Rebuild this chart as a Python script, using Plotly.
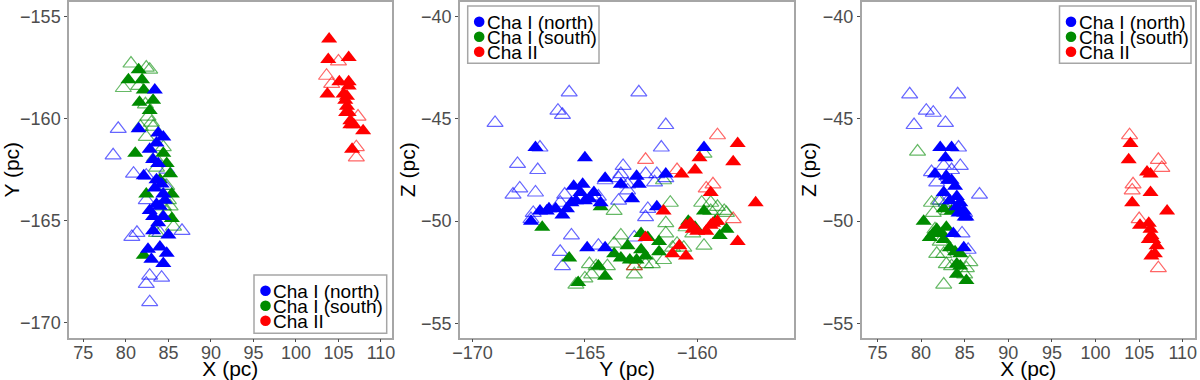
import plotly.graph_objects as go

# ---------------- Panel 1: X vs Y ----------------
p1_north_filled_x = [83.4, 81.5, 83.8, 84.4, 82.8, 83.6, 83.2, 83.8, 82.1, 83.4, 84.4, 83.6, 82.8, 84.0, 84.6,
                     83.2, 84.4, 83.8, 83.2, 85.0, 82.6, 84.0, 84.8, 83.0, 84.4, 84.2, 83.6]
p1_north_filled_y = [-158.6, -160.5, -160.7, -160.9, -161.5, -161.2, -162.0, -162.2, -162.8, -163.4, -163.7, -164.2,
                     -164.5, -164.3, -164.0, -164.8, -164.8, -165.1, -165.5, -165.7, -166.4, -166.3, -166.6, -166.9,
                     -167.1, -163.2, -163.0]
p1_north_open_x = [79.1, 78.5, 80.9, 82.4, 81.3, 80.7, 86.6, 84.8, 84.6, 82.4, 82.8, 82.4, 84.2, 82.8, 84.0]
p1_north_open_y = [-160.5, -161.8, -162.7, -162.8, -165.6, -165.8, -165.5, -162.5, -163.3, -164.0, -167.7, -168.1,
                   -167.8, -169.0, -165.6]
p1_south_filled_x = [81.5, 80.3, 81.9, 82.1, 81.6, 83.2, 82.8, 81.1, 84.4, 82.4, 85.4, 85.2, 84.8, 85.4, 82.1, 84.0]
p1_south_filled_y = [-157.6, -158.1, -158.1, -158.6, -159.2, -159.1, -159.6, -161.7, -161.7, -163.7, -163.7, -162.7,
                     -162.2, -164.9, -166.7, -163.0]
p1_south_open_x = [80.6, 82.8, 82.4, 79.7, 81.5, 82.3, 83.0, 83.2, 81.7, 82.4, 83.4, 83.6, 84.8, 85.0, 85.2, 84.8,
                   85.6, 83.6, 84.4, 82.6, 84.4]
p1_south_open_y = [-157.3, -157.6, -157.5, -158.5, -158.4, -159.3, -160.2, -160.4, -160.4, -160.9, -161.9, -162.4,
                   -163.3, -164.0, -164.3, -164.6, -165.3, -165.6, -164.3, -159.9, -161.4]
p1_cha2_filled_x = [103.9, 103.8, 106.2, 103.7, 105.1, 106.2, 105.6, 105.8, 106.0, 106.2, 106.4, 106.4, 107.9, 106.6,
                    106.2, 105.9, 106.8, 106.0]
p1_cha2_filled_y = [-156.1, -157.1, -157.0, -158.8, -158.2, -158.2, -158.8, -159.1, -159.4, -159.7, -160.1, -160.3,
                    -160.6, -161.5, -158.4, -159.7, -160.3, -158.9]
p1_cha2_open_x = [105.0, 103.6, 104.2, 107.3, 107.1, 107.1]
p1_cha2_open_y = [-157.2, -157.9, -158.3, -159.9, -161.4, -161.9]

# ---------------- Panel 2: Y vs Z ----------------
p2_north_filled_x = [-167.2, -165.0, -167.4, -167.0, -166.6, -166.7, -166.0, -165.8, -165.5, -165.1, -165.2, -165.6,
                     -165.4, -165.0, -164.6, -164.3, -164.1, -163.4, -162.9, -162.7, -162.6, -161.8, -161.4, -159.7,
                     -164.9, -164.1, -166.3, -164.8]
p2_north_filled_y = [-46.4, -46.9, -50.0, -49.5, -49.4, -49.5, -49.7, -49.4, -48.3, -48.2, -48.6, -49.1, -49.0, -49.0,
                     -48.6, -49.1, -47.9, -48.2, -48.9, -47.8, -48.2, -49.3, -47.7, -46.4, -51.3, -51.3, -49.4, -48.9]
p2_north_open_x = [-169.0, -165.7, -166.2, -166.0, -162.6, -161.4, -167.0, -161.6, -168.0, -167.1, -167.9, -168.2,
                   -167.2, -167.3, -167.4, -165.9, -166.1, -165.6, -166.1, -166.0, -163.3, -163.4, -164.1, -163.5,
                   -163.1, -164.7, -164.4, -163.5, -162.3, -161.8, -161.4, -162.3, -162.2, -162.8, -164.4, -161.9,
                   -163.1]
p2_north_open_y = [-45.2, -43.7, -44.6, -44.8, -43.7, -45.3, -46.4, -46.4, -47.2, -47.5, -48.4, -48.7, -48.6, -49.6,
                   -49.9, -48.7, -49.1, -50.7, -51.5, -52.2, -47.3, -47.7, -48.0, -47.9, -48.2, -48.8, -48.8, -49.0,
                   -47.7, -47.7, -47.9, -49.8, -49.4, -50.8, -51.2, -48.1, -48.5]
p2_south_filled_x = [-166.9, -165.7, -165.3, -164.4, -164.1, -164.3, -163.7, -163.4, -163.1, -163.0, -162.7, -162.5,
                     -162.5, -162.2, -162.3, -161.7, -161.7, -159.7, -159.0, -158.7, -159.2, -160.1, -160.4]
p2_south_filled_y = [-50.3, -51.8, -53.0, -52.2, -52.7, -49.3, -51.6, -51.8, -51.2, -51.9, -51.9, -50.6, -51.4, -50.8,
                     -51.7, -51.0, -51.5, -49.5, -50.7, -50.4, -50.0, -50.3, -50.0]
p2_south_open_x = [-163.4, -163.7, -164.8, -164.7, -165.0, -165.4, -164.0, -162.8, -162.8, -162.3, -162.0, -161.5,
                   -161.4, -161.4, -161.2, -161.5, -160.5, -160.2, -159.7, -160.6, -161.1, -159.8, -159.4, -159.1,
                   -158.8, -158.7, -159.4, -159.7, -160.9, -163.7, -164.5]
p2_south_open_y = [-50.7, -51.1, -52.1, -52.6, -52.8, -53.1, -52.2, -52.2, -52.6, -52.1, -52.1, -51.9, -50.1, -50.6,
                   -49.1, -48.0, -50.3, -50.6, -51.2, -51.3, -51.3, -49.1, -49.1, -49.3, -49.5, -49.6, -49.5, -46.7,
                   -51.1, -49.5, -52.2]
p2_cha2_filled_x = [-158.2, -158.4, -159.9, -160.1, -160.7, -159.4, -157.4, -161.5, -162.3, -160.5, -160.3, -160.2,
                    -160.0, -159.6, -159.4, -159.3, -159.1, -158.2, -161.1, -160.8, -160.5]
p2_cha2_filled_y = [-46.2, -47.1, -46.9, -47.5, -47.7, -48.6, -49.1, -49.5, -50.8, -50.2, -50.1, -50.4, -50.5, -50.5,
                    -50.2, -50.1, -50.0, -51.0, -51.6, -51.2, -51.7]
p2_cha2_open_x = [-159.1, -162.3, -160.9, -159.3, -159.6, -158.4, -162.8]
p2_cha2_open_y = [-45.8, -47.0, -47.5, -48.2, -48.4, -49.9, -52.2]

# ---------------- Panel 3: X vs Z ----------------
p3_north_filled_x = [82.2, 83.5, 82.8, 81.6, 82.9, 83.5, 83.9, 84.1, 84.5, 84.9, 85.0, 85.2, 82.6, 83.3, 84.3, 83.7,
                     84.9, 83.1, 84.1]
p3_north_filled_y = [-46.4, -46.4, -46.9, -47.7, -47.8, -48.0, -48.3, -48.8, -49.1, -49.5, -49.8, -49.8, -48.6, -49.0,
                     -49.6, -50.6, -51.3, -48.0, -49.3]
p3_north_open_x = [78.7, 84.2, 80.6, 81.4, 79.2, 82.8, 84.3, 84.5, 81.2, 81.8, 82.6, 83.5, 86.7, 82.2, 82.9, 84.7,
                   85.4, 85.0]
p3_north_open_y = [-43.8, -43.8, -44.6, -44.7, -45.3, -45.2, -46.4, -47.3, -47.6, -48.1, -47.3, -47.5, -48.7, -49.0,
                   -49.1, -50.6, -51.4, -49.6]
p3_south_filled_x = [80.3, 81.0, 81.8, 82.4, 82.9, 82.6, 83.3, 83.9, 84.1, 84.5, 84.1, 85.2, 84.5, 83.5, 82.6, 81.4]
p3_south_filled_y = [-50.0, -50.8, -50.4, -50.6, -50.3, -50.9, -51.3, -51.5, -52.1, -52.2, -52.6, -52.9, -51.6, -49.5,
                     -49.4, -50.6]
p3_south_open_x = [79.6, 81.2, 81.4, 82.0, 81.6, 81.8, 82.6, 82.6, 82.9, 83.5, 85.6, 85.0, 85.2, 82.2, 83.1]
p3_south_open_y = [-46.6, -49.1, -49.6, -49.0, -50.4, -51.6, -51.6, -53.1, -52.1, -52.2, -52.0, -52.6, -52.3, -51.0,
                   -49.5]
p3_cha2_filled_x = [104.0, 103.8, 104.2, 105.9, 106.3, 106.3, 108.2, 105.1, 106.1, 106.3, 106.4, 106.1, 106.6, 107.0,
                    106.4, 106.8]
p3_cha2_filled_y = [-46.2, -47.0, -49.1, -47.6, -47.7, -48.6, -49.5, -50.2, -50.1, -50.4, -50.7, -50.9, -50.9, -51.2,
                    -51.7, -51.6]
p3_cha2_open_x = [103.9, 107.2, 107.6, 104.3, 104.2, 105.0, 107.2]
p3_cha2_open_y = [-45.8, -47.0, -47.4, -48.2, -48.5, -49.9, -52.3]

groups = ["Cha I (north)", "Cha I (south)", "Cha II"]
x_ticks = [75, 80, 85, 90, 95, 100, 105, 110]
y_ticks_Y = [-170, -165, -160, -155]
y_ticks_Z = [-55, -50, -45, -40]

colors = ["#0000FF", "#008B00", "#FF0000"]
open_colors = ["rgba(0,0,255,0.6)", "rgba(0,139,0,0.6)", "rgba(255,0,0,0.6)"]

W, H = 1200, 380
def fx(px):
    return px / W
def fy(py):
    return 1 - py / H

panels = [
    dict(xa="x", ya="y",
         filled=[(p1_north_filled_x, p1_north_filled_y), (p1_south_filled_x, p1_south_filled_y),
                 (p1_cha2_filled_x, p1_cha2_filled_y)],
         opened=[(p1_north_open_x, p1_north_open_y), (p1_south_open_x, p1_south_open_y),
                 (p1_cha2_open_x, p1_cha2_open_y)],
         legend_box=(254, 275, 386.7, 333.3)),
    dict(xa="x2", ya="y2",
         filled=[(p2_north_filled_x, p2_north_filled_y), (p2_south_filled_x, p2_south_filled_y),
                 (p2_cha2_filled_x, p2_cha2_filled_y)],
         opened=[(p2_north_open_x, p2_north_open_y), (p2_south_open_x, p2_south_open_y),
                 (p2_cha2_open_x, p2_cha2_open_y)],
         legend_box=(467.7, 6, 599, 63.3)),
    dict(xa="x3", ya="y3",
         filled=[(p3_north_filled_x, p3_north_filled_y), (p3_south_filled_x, p3_south_filled_y),
                 (p3_cha2_filled_x, p3_cha2_filled_y)],
         opened=[(p3_north_open_x, p3_north_open_y), (p3_south_open_x, p3_south_open_y),
                 (p3_cha2_open_x, p3_cha2_open_y)],
         legend_box=(1059.5, 6, 1191, 63.3)),
]

FONT = "Liberation Sans, Arial, sans-serif"
fig = go.Figure()
MS = 14
shapes, annotations = [], []
for p in panels:
    for i, (xs, ys) in enumerate(p["opened"]):
        fig.add_trace(go.Scatter(x=xs, y=ys, mode="markers", xaxis=p["xa"], yaxis=p["ya"], showlegend=False,
                                 name=groups[i],
                                 marker=dict(symbol="triangle-up-open", size=MS, color=open_colors[i],
                                             line=dict(width=1.2, color=open_colors[i]))))
    for i in [1, 0, 2]:
        xs, ys = p["filled"][i]
        fig.add_trace(go.Scatter(x=xs, y=ys, mode="markers", xaxis=p["xa"], yaxis=p["ya"], showlegend=False,
                                 name=groups[i],
                                 marker=dict(symbol="triangle-up", size=MS, color=colors[i], line=dict(width=0))))
    # legend drawn as a box, circles and real text
    x0, y0, x1, y1 = p["legend_box"]
    shapes.append(dict(type="rect", xref="paper", yref="paper", x0=fx(x0), x1=fx(x1), y0=fy(y1), y1=fy(y0),
                       line=dict(color="#a6a6a6", width=1.5), fillcolor="white", layer="above"))
    for i, g in enumerate(groups):
        cy = y0 + 15.7 + 15 * i
        cx = x0 + 11.5
        r = 5.3
        shapes.append(dict(type="circle", xref="paper", yref="paper", x0=fx(cx - r), x1=fx(cx + r),
                           y0=fy(cy + r), y1=fy(cy - r), fillcolor=colors[i], line=dict(width=0), layer="above"))
        annotations.append(dict(text=g, xref="paper", yref="paper", x=fx(cx + 5.5), y=fy(cy + 0.5),
                                xanchor="left", yanchor="middle", showarrow=False,
                                font=dict(family=FONT, size=19, color="#000000")))

tickfont = dict(family=FONT, size=18, color="#4d4d4d")
titlefont = dict(family=FONT, size=21, color="#000000")
frame = dict(showline=True, linecolor="#a6a6a6", linewidth=1.5, mirror=True, showgrid=False, zeroline=False,
             ticks="outside", ticklen=3, tickcolor="#4d4d4d", tickwidth=1, tickfont=tickfont,
             automargin=False)

ydom = [fy(337.7), fy(1.7)]
fig.update_layout(
    width=W, height=H, margin=dict(l=0, r=0, t=0, b=0), showlegend=False,
    paper_bgcolor="white", plot_bgcolor="white",
    xaxis=dict(domain=[fx(69), fx(391.7)], range=[73.31, 111.26], tickvals=x_ticks, ticklabelstandoff=-5,
               title=dict(text="X (pc)", font=titlefont, standoff=0), anchor="y", **frame),
    yaxis=dict(domain=ydom, range=[-170.74, -154.27], tickvals=y_ticks_Y,
               title=dict(text="Y (pc)", font=titlefont, standoff=4), anchor="x", **frame),
    xaxis2=dict(domain=[fx(460), fx(794.3)], range=[-170.56, -155.68], tickvals=y_ticks_Y, ticklabelstandoff=-5,
                title=dict(text="Y (pc)", font=titlefont, standoff=0), anchor="y2", **frame),
    yaxis2=dict(domain=ydom, range=[-55.70, -39.27], tickvals=y_ticks_Z,
                title=dict(text="Z (pc)", font=titlefont, standoff=0), anchor="x2", **frame),
    xaxis3=dict(domain=[fx(861.7), fx(1195)], range=[73.2, 111.4], tickvals=x_ticks, ticklabelstandoff=-5,
                title=dict(text="X (pc)", font=titlefont, standoff=0), anchor="y3", **frame),
    yaxis3=dict(domain=ydom, range=[-55.70, -39.27], tickvals=y_ticks_Z,
                title=dict(text="Z (pc)", font=titlefont, standoff=0), anchor="x3", **frame),
    shapes=shapes, annotations=annotations,
)

fig.write_html("out.html", config={"displayModeBar": False},
               post_script="document.body.style.margin='0';document.body.style.overflow='hidden';")
